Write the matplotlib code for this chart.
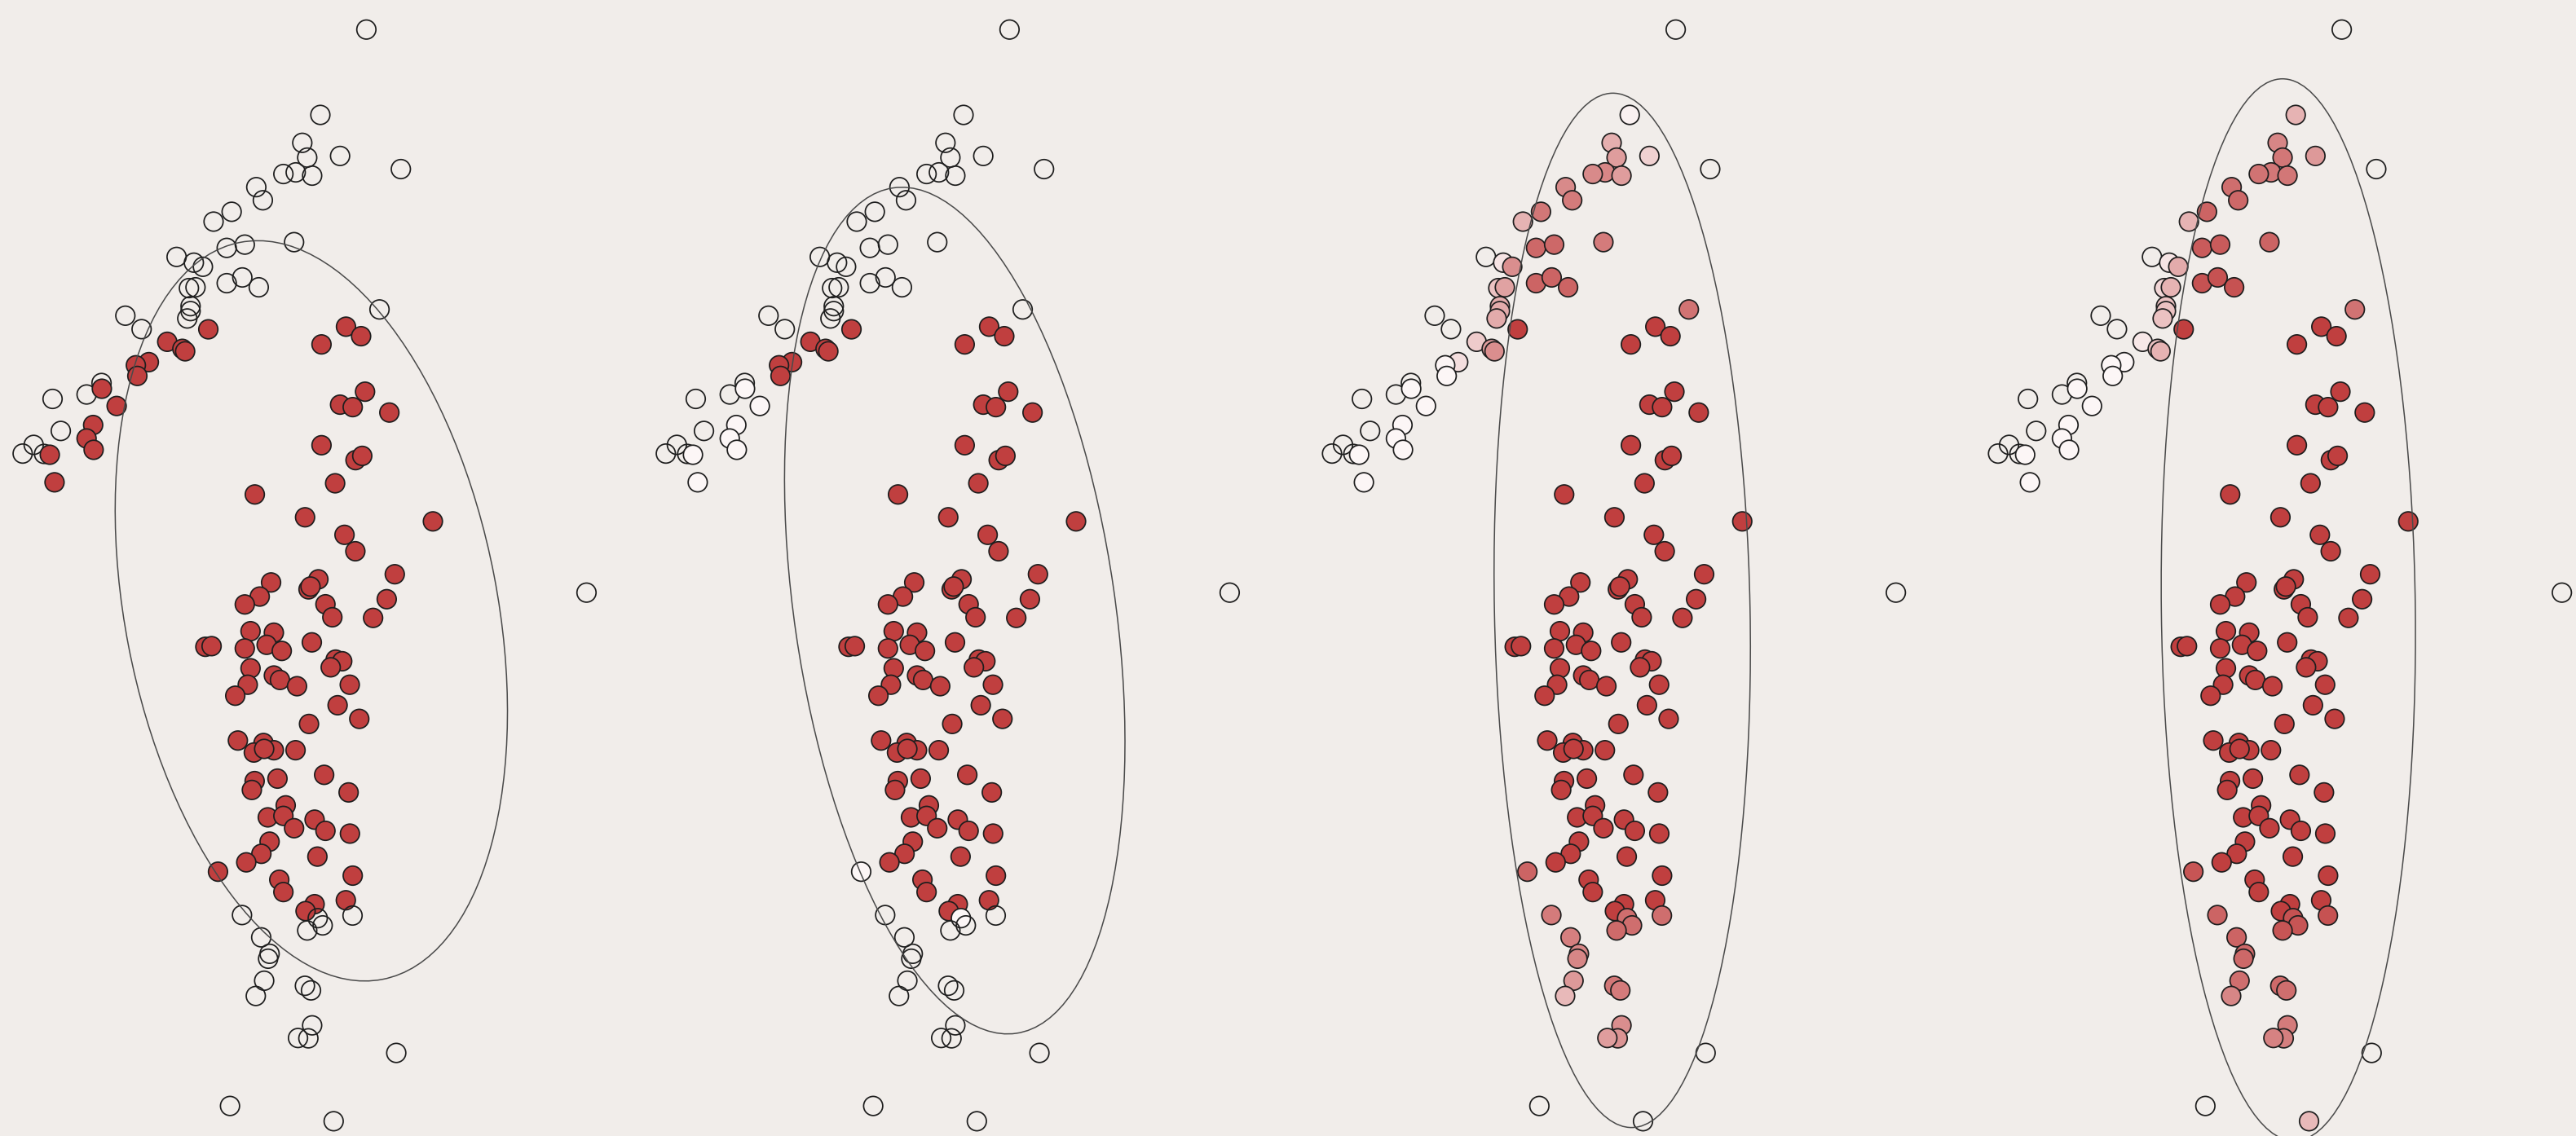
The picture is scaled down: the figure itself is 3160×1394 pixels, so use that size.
import matplotlib.pyplot as plt
import numpy as np
from matplotlib.colors import to_rgb
from matplotlib.patches import Ellipse

# point positions (same sample in every panel)
x = [223, 195, 184, 187, 207, 180, 172.5, 190, 244, 156,
     160, 141, 130, 179, 138, 149, 107.5, 118, 123.5, 138,
     147.5, 157.5, 115, 119, 116, 116, 114, 231, 76.3, 86.2,
     32, 52.7, 61.8, 37, 20.5, 13.8, 26.8, 357, 126.8, 101.8,
     111, 112.7, 90.6, 82.7, 83.6, 62, 71, 56.7, 52.7, 57,
     30.3, 33.2, 195.7, 210.6, 219.8, 222.2, 207, 214.7, 237, 195.7,
     216.4, 220.5, 204, 155.1, 185.7, 263.5, 209.7, 216.3, 240.3, 193.8,
     187.8, 189, 235.4, 198.1, 202.3, 227.1, 189.8, 165, 158.1, 149,
     152.5, 166.7, 125, 128.8, 149, 162.3, 171.5, 204.3, 208.3, 201.3,
     152.5, 166.7, 170.4, 150.8, 180.8, 212.9, 143.2, 205.5, 218.7, 188.1,
     144.8, 160.4, 154.5, 166.7, 160.8, 179.9, 197.3, 212.2, 155, 153.3,
     168.9, 173.9, 163, 172.5, 179, 191.5, 198.1, 213, 164.1, 159.1,
     149.9, 132.7, 193.2, 170, 214.7, 172.5, 210.5, 191.5, 186, 147.3,
     193.4, 196.4, 187, 214.6, 159, 164.1, 163.2, 160.8, 155.7, 185.6,
     189.3, 190, 187.7, 181.4, 241.2, 140, 203.1]
y = [18, 70, 87, 96, 95, 105, 106, 107, 103, 114,
     122, 129, 135, 147.5, 151, 149, 156.5, 160, 162.5, 172.5,
     169, 175, 175.5, 175, 186.5, 189.5, 194, 188.5, 192.3, 200.5,
     243, 240.3, 233.3, 262.5, 271, 276.3, 276.5, 361, 200.6, 208.2,
     212.5, 214, 220.6, 222.5, 229, 236.8, 247.3, 258.9, 267.1, 274,
     277, 293.8, 209.8, 199, 204.8, 238.6, 246.5, 248, 251.3, 271.2,
     280.3, 277.7, 294.4, 301.2, 315.1, 317.6, 325.8, 335.8, 349.8, 352.9,
     359, 357.3, 365, 368.1, 376, 376.4, 391.3, 354.8, 363.4, 368.2,
     384.5, 385.4, 394, 393.6, 395, 392.8, 396.5, 401.8, 402.8, 406.5,
     407.1, 411.5, 414.2, 417.1, 418, 417.1, 423.8, 429.6, 437.9, 441,
     451.1, 452.6, 458.4, 457, 456.2, 457, 472, 482.7, 475.8, 481.2,
     474.3, 490.6, 497.9, 497, 504.5, 499.3, 506.1, 507.8, 512.7, 520.1,
     525.3, 531, 521.8, 535.9, 533.4, 543.4, 548.4, 550.8, 555, 557.4,
     559.3, 563.7, 566.8, 557.7, 571, 581, 584, 597.4, 606.7, 600.5,
     603.3, 624.6, 632.5, 632.3, 641.4, 673.7, 683]

# membership weight of each point, one list per panel (0 = unfilled)
w1 = [0, 0, 0, 0, 0, 0, 0, 0, 0, 0,
      0, 0, 0, 0, 0, 0, 0, 0, 0, 0,
      0, 0, 0, 0, 0, 0, 0, 0, 0, 0,
      0, 0, 0, 0, 0, 0, 0, 0, 1, 1,
      1, 1, 1, 1, 1, 1, 1, 1, 1, 1,
      1, 1, 1, 1, 1, 1, 1, 1, 1, 1,
      1, 1, 1, 1, 1, 1, 1, 1, 1, 1,
      1, 1, 1, 1, 1, 1, 1, 1, 1, 1,
      1, 1, 1, 1, 1, 1, 1, 1, 1, 1,
      1, 1, 1, 1, 1, 1, 1, 1, 1, 1,
      1, 1, 1, 1, 1, 1, 1, 1, 1, 1,
      1, 1, 1, 1, 1, 1, 1, 1, 1, 1,
      1, 1, 1, 1, 1, 1, 1, 1, 1, 0,
      0, 0, 0, 0, 0, 0, 0, 0, 0, 0,
      0, 0, 0, 0, 0, 0, 0]
w2 = [0, 0, 0, 0, 0, 0, 0, 0, 0, 0,
      0, 0, 0, 0, 0, 0, 0, 0, 0, 0,
      0, 0, 0, 0, 0, 0, 0, 0, 0, 0,
      0, 0, 0, 0, 0, 0, 0, 0, 1, 1,
      1, 1, 1, 1, 1, .02, .02, .02, .02, .02,
      .02, .02, 1, 1, 1, 1, 1, 1, 1, 1,
      1, 1, 1, 1, 1, 1, 1, 1, 1, 1,
      1, 1, 1, 1, 1, 1, 1, 1, 1, 1,
      1, 1, 1, 1, 1, 1, 1, 1, 1, 1,
      1, 1, 1, 1, 1, 1, 1, 1, 1, 1,
      1, 1, 1, 1, 1, 1, 1, 1, 1, 1,
      1, 1, 1, 1, 1, 1, 1, 1, 1, 1,
      1, .02, 1, 1, 1, 1, 1, 1, 1, 0,
      .02, 0, 0, 0, 0, 0, 0, 0, 0, 0,
      0, 0, 0, 0, 0, 0, 0]
w3 = [0, .05, .4, .5, .22, .62, .6, .5, 0, .6,
      .68, .7, .38, .68, .78, .78, 0, .12, .58, .8,
      .8, .8, .3, .47, .42, .42, .42, .72, 0, 0,
      0, 0, 0, 0, 0, 0, 0, 0, 1, .25,
      .5, .58, .15, .03, .02, .02, .02, .02, .02, .02,
      .02, .02, 1, 1, 1, 1, 1, 1, 1, 1,
      1, 1, 1, 1, 1, 1, 1, 1, 1, 1,
      1, 1, 1, 1, 1, 1, 1, 1, 1, 1,
      1, 1, 1, 1, 1, 1, 1, 1, 1, 1,
      1, 1, 1, 1, 1, 1, 1, 1, 1, 1,
      1, 1, 1, 1, 1, 1, 1, 1, 1, 1,
      1, 1, 1, 1, 1, 1, 1, 1, 1, 1,
      1, .8, 1, 1, 1, 1, 1, 1, 1, .68,
      .75, .75, .77, .75, .66, .62, .62, .52, .35, .7,
      .68, .58, .55, .5, 0, 0, 0]
w4 = [0, .38, .62, .7, .52, .7, .72, .7, 0, .75,
      .78, .8, .38, .8, .85, .85, 0, .12, .42, .9,
      .9, .9, .2, .38, .3, .3, .3, .72, 0, 0,
      0, 0, 0, 0, 0, 0, 0, 0, 1, .1,
      .3, .38, .02, .02, .02, .02, .02, .02, .02, .02,
      .02, .02, 1, 1, 1, 1, 1, 1, 1, 1,
      1, 1, 1, 1, 1, 1, 1, 1, 1, 1,
      1, 1, 1, 1, 1, 1, 1, 1, 1, 1,
      1, 1, 1, 1, 1, 1, 1, 1, 1, 1,
      1, 1, 1, 1, 1, 1, 1, 1, 1, 1,
      1, 1, 1, 1, 1, 1, 1, 1, 1, 1,
      1, 1, 1, 1, 1, 1, 1, 1, 1, 1,
      1, .88, 1, 1, 1, 1, 1, 1, 1, .8,
      .9, .88, .88, .9, .8, .78, .78, .75, .62, .77,
      .75, .68, .66, .64, 0, 0, .35]
weights = [w1, w2, w3, w4]

# fitted covariance ellipse of each panel
ell_cx = [189.5, 189.65, 190.45, 190.5]
ell_cy = [372.1, 371.95, 371.8, 371.5]
ell_major = [228.6, 260.2, 315.1, 323.5]
ell_minor = [113.3, 97.6, 77.8, 77.3]
ell_angle = [79.07, 81.71, 88.9, 89.33]

bg = '#f1edea'
red = np.array(to_rgb('#c03f3f'))
white = np.array(to_rgb('#fdfafa'))
panel_left = [0, 391.5, 797, 1202.4]
panel_w = 390
fig_w, fig_h = 1568, 692


def face_colors(w):
    cols = []
    for v in w:
        if v <= 0:
            cols.append((0, 0, 0, 0))
        else:
            c = (1 - v) * white + v * red
            cols.append((c[0], c[1], c[2], 1))
    return cols


fig = plt.figure(figsize=(31.6, 13.94), dpi=100, facecolor=bg)

for i in range(4):
    ax = fig.add_axes([panel_left[i] / fig_w, 0, panel_w / fig_w, 1])
    ax.set_facecolor('none')
    ax.scatter(x, y, s=285, c=face_colors(weights[i]), edgecolors='#1e1e1e',
               linewidths=1.25, zorder=2)
    ax.add_patch(Ellipse((ell_cx[i], ell_cy[i]), 2 * ell_major[i], 2 * ell_minor[i],
                         angle=ell_angle[i], fill=False, ec='#4a4a4a', lw=1.1, zorder=3))
    ax.set_xlim(0, panel_w)
    ax.set_ylim(fig_h, 0)
    ax.axis('off')

fig.savefig('out.png', dpi=100, facecolor=bg)
